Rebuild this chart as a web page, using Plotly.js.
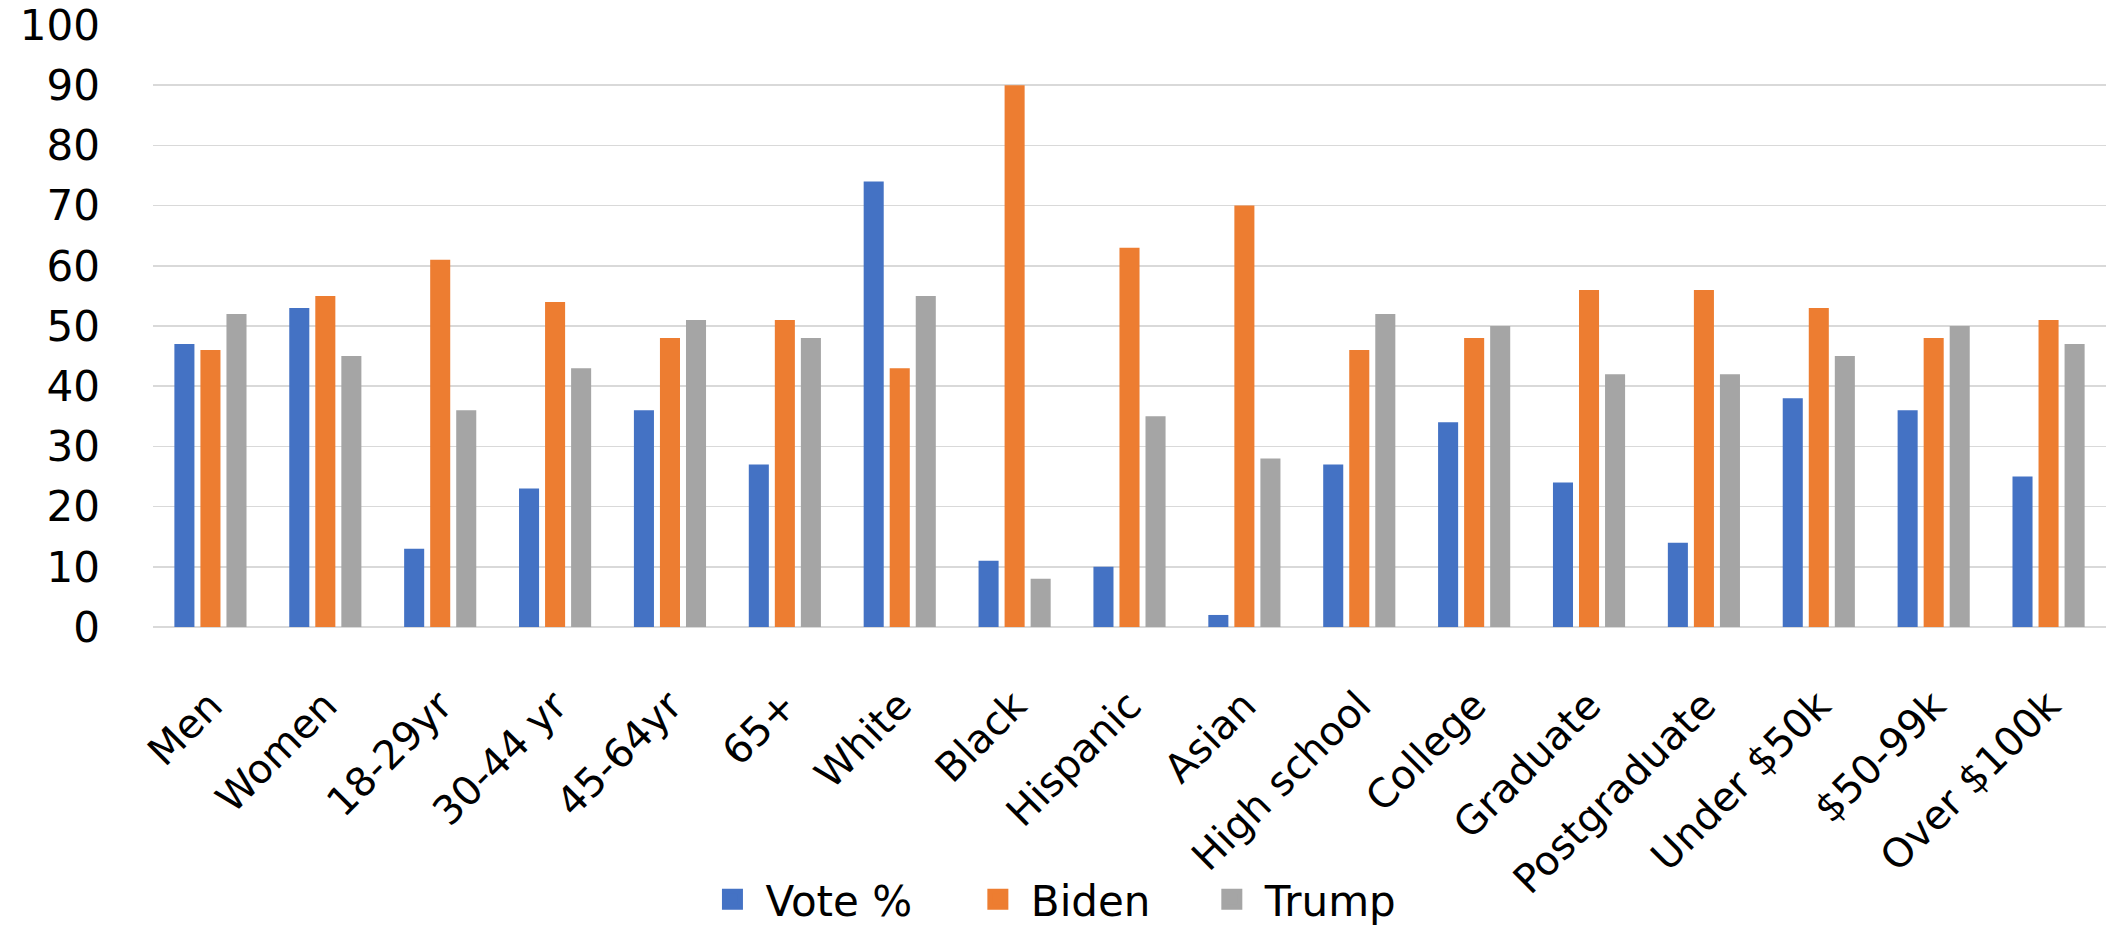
<!DOCTYPE html>
<html>
<head>
<meta charset="utf-8">
<script src="https://cdn.plot.ly/plotly-3.0.1.min.js"></script>
<style>
  html, body { margin: 0; padding: 0; background: #ffffff; }
  #chart { width: 2118px; height: 935px; }
</style>
</head>
<body>
<div id="chart"></div>
<script>
const categories = ["Men", "Women", "18-29yr", "30-44 yr", "45-64yr", "65+", "White", "Black", "Hispanic", "Asian", "High school", "College", "Graduate", "Postgraduate", "Under $50k", "$50-99k", "Over $100k"];
const votePct = [47, 53, 13, 23, 36, 27, 74, 11, 10, 2, 27, 34, 24, 14, 38, 36, 25];
const biden   = [46, 55, 61, 54, 48, 51, 43, 90, 63, 70, 46, 48, 56, 56, 53, 48, 51];
const trump   = [52, 45, 36, 43, 51, 48, 55, 8, 35, 28, 52, 50, 42, 42, 45, 50, 47];
const seriesNames = ["Vote %", "Biden", "Trump"];
const yTicks = [0, 10, 20, 30, 40, 50, 60, 70, 80, 90, 100];

const colors = ["#4472C4", "#ED7D31", "#A5A5A5"];
const seriesValues = [votePct, biden, trump];
const legendIds = ["legend", "legend2", "legend3"];
const legendX = [0.2798, 0.4157, 0.5355];

const traces = [];
seriesValues.forEach((vals, i) => {
  traces.push({
    type: "bar",
    name: seriesNames[i],
    x: categories,
    y: vals,
    marker: { color: colors[i], line: { width: 0 } },
    showlegend: false,
    legendgroup: seriesNames[i],
    hoverinfo: "x+y+name"
  });
});
// legend entries (larger square swatches)
seriesValues.forEach((vals, i) => {
  traces.push({
    type: "scatter",
    mode: "markers",
    name: seriesNames[i],
    x: [null],
    y: [null],
    marker: { symbol: "square", size: 16, color: colors[i], line: { color: colors[i], width: 5 } },
    showlegend: true,
    legend: legendIds[i],
    legendgroup: seriesNames[i],
    hoverinfo: "skip"
  });
});

function legendSpec(x) {
  return {
    orientation: "h",
    x: x,
    xanchor: "left",
    y: -0.509,
    yanchor: "bottom",
    itemwidth: 56,
    font: { family: "DejaVu Sans, Verdana, sans-serif", size: 42, color: "#000000" },
    itemclick: false,
    bgcolor: "rgba(0,0,0,0)",
    borderwidth: 0
  };
}

const layout = {
  width: 2118,
  height: 935,
  paper_bgcolor: "#ffffff",
  plot_bgcolor: "#ffffff",
  margin: { l: 153, r: 12, t: 24.5, b: 308.3, pad: 0, autoexpand: false },
  font: { family: "DejaVu Sans, Verdana, sans-serif", color: "#000000", size: 40 },
  barmode: "group",
  bargap: 0.32,
  bargroupgap: 0.23,
  showlegend: true,
  legend: legendSpec(legendX[0]),
  legend2: legendSpec(legendX[1]),
  legend3: legendSpec(legendX[2]),
  xaxis: {
    type: "category",
    tickangle: -45,
    tickfont: { family: "DejaVu Sans, Verdana, sans-serif", size: 40, color: "#000000" },
    showgrid: false,
    showline: false,
    zeroline: false,
    ticks: "",
    ticklabelstandoff: 46,
    automargin: false
  },
  yaxis: {
    range: [0, 100],
    tickvals: yTicks,
    ticktext: yTicks.map(String),
    tickfont: { family: "DejaVu Sans, Verdana, sans-serif", size: 42, color: "#000000" },
    showgrid: true,
    gridcolor: "#D9D9D9",
    gridwidth: 1.5,
    zeroline: true,
    zerolinecolor: "#D9D9D9",
    zerolinewidth: 1.5,
    showline: false,
    ticks: "",
    ticklabelstandoff: 52,
    automargin: false,
    fixedrange: true
  }
};

Plotly.newPlot("chart", traces, layout, { displayModeBar: false, staticPlot: true });
</script>
</body>
</html>
